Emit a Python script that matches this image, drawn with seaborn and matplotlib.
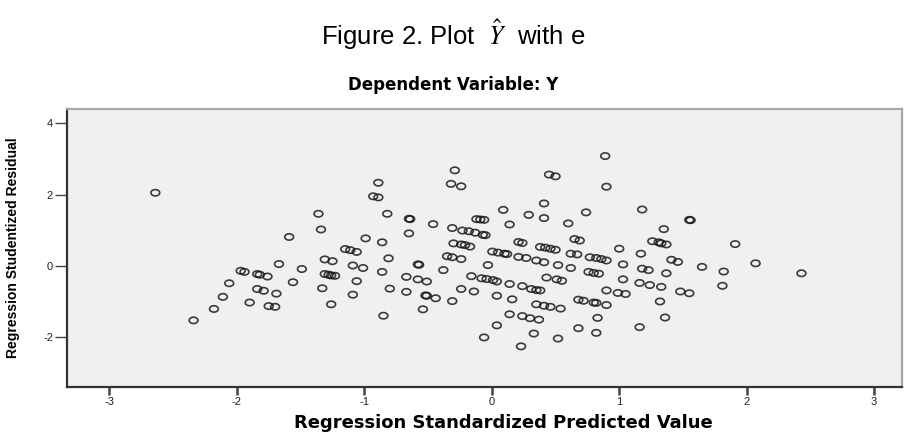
import numpy as np
import pandas as pd
import matplotlib
matplotlib.use("Agg")
import matplotlib.pyplot as plt
from matplotlib.path import Path
import seaborn as sns

# ---- data ----
pred = [-2.64, -2.34, -2.18, -2.11, -2.06, -1.97, -1.94, -1.90, -1.84, -1.82,
        -1.76, -1.84, -1.79, -1.75, -1.70, -1.69, -1.67, -1.59, -1.56, -1.49,
        -1.36, -1.34, -1.33, -1.31, -1.25, -1.31, -1.28, -1.26, -1.23, -1.26,
        -1.15, -1.11, -1.06, -1.09, -1.01, -1.06, -1.09,
        -0.99, -0.89, -0.93, -0.89, -0.86, -0.82, -0.81, -0.86, -0.80, -0.85,
        -0.67, -0.67, -0.65, -0.64, -0.65, -0.58, -0.57, -0.58, -0.51, -0.52,
        -0.51, -0.44, -0.54, -0.46, -0.38, -0.35, -0.31, -0.24, -0.31, -0.31,
        -0.30, -0.24, -0.21, -0.17, -0.29, -0.32, -0.24, -0.24, -0.23, -0.18,
        -0.13, -0.07, -0.05, -0.16, -0.14, -0.12, -0.09, -0.06, -0.08, -0.04,
        0.01, 0.04, -0.03, 0.005, 0.05, 0.10, 0.12, 0.04, 0.04, -0.06,
        0.09, 0.14, 0.14, 0.24, 0.31, 0.35, 0.38, 0.16, 0.14, 0.24,
        0.30, 0.37, 0.33, 0.23, 0.21, 0.24, 0.21, 0.27, 0.29, 0.41,
        0.41, 0.45, 0.50, 0.38, 0.42, 0.46, 0.50, 0.35, 0.41, 0.43,
        0.51, 0.55, 0.35, 0.41, 0.46, 0.54, 0.52, 0.52, 0.60, 0.62,
        0.67, 0.65, 0.69, 0.62, 0.74, 0.77, 0.82, 0.86, 0.90, 0.76,
        0.80, 0.84, 0.68, 0.72, 0.80, 0.82, 0.90, 0.68, 0.83, 0.82,
        0.89, 0.90, 0.90, 0.99, 1.05, 1.00, 1.03, 1.03,
        1.18, 1.55, 1.56, 1.35, 1.26, 1.31, 1.33, 1.37, 1.91, 1.17,
        1.41, 1.46, 1.65, 2.07, 1.18, 1.23, 1.37, 1.82, 2.43, 1.16,
        1.24, 1.33, 1.48, 1.55, 1.81, 1.32, 1.36, 1.16]

resid = [2.05, -1.53, -1.21, -0.87, -0.49, -0.14, -0.17, -1.03, -0.23, -0.25,
         -0.30, -0.65, -0.70, -1.13, -1.15, -0.78, 0.05, 0.81, -0.46, -0.09,
         1.46, 1.02, -0.63, 0.18, 0.13, -0.23, -0.25, -0.27, -0.28, -1.08,
         0.47, 0.44, 0.39, 0.01, -0.06, -0.43, -0.81,
         0.77, 2.33, 1.95, 1.92, 0.66, 1.46, 0.21, -0.17, -0.64, -1.40,
         -0.73, -0.31, 1.32, 1.31, 0.91, 0.04, 0.03, -0.38, -0.44, -0.83,
         -0.84, -0.91, -1.22, 1.17, -0.12, 0.27, 0.24, 0.19, 1.06, -0.99,
         0.63, 0.60, 0.58, 0.54, 2.68, 2.30, 2.23, -0.65, 0.99, 0.97,
         0.93, 0.87, 0.86, -0.29, -0.72, 1.31, 1.30, 1.29, -0.35, -0.37,
         -0.40, -0.44, 0.02, 0.40, 0.37, 0.34, 0.33, -0.84, -1.67, -2.01,
         1.57, 1.16, -0.51, -0.57, -0.65, -0.68, -0.69, -0.94, -1.36, -1.41,
         -1.47, -1.51, -1.90, -2.26, 0.67, 0.64, 0.25, 0.22, 1.43, 1.34,
         1.75, 2.56, 2.51, 0.53, 0.51, 0.48, 0.45, 0.15, 0.10, -0.33,
         -0.38, -0.42, -1.08, -1.12, -1.15, -1.20, -2.04, 0.02, 1.19, 0.34,
         0.32, 0.75, 0.71, -0.06, 1.50, 0.24, 0.22, 0.19, 0.15, -0.17,
         -0.20, -0.22, -0.95, -0.98, -1.03, -1.04, -1.10, -1.75, -1.46, -1.88,
         3.08, 2.22, -0.69, -0.76, -0.79, 0.48, 0.04, -0.38,
         1.58, 1.29, 1.28, 1.03, 0.69, 0.66, 0.63, 0.60, 0.61, 0.34,
         0.17, 0.11, -0.03, 0.07, -0.08, -0.12, -0.21, -0.16, -0.21, -0.48,
         -0.54, -0.59, -0.72, -0.77, -0.56, -1.00, -1.45, -1.72]

x_ticks = [-3, -2, -1, 0, 1, 2, 3]
y_ticks = [-2, 0, 2, 4]

df = pd.DataFrame({"pred": pred, "resid": resid})

sns.set_style("white")
plt.rcParams["font.family"] = ["Liberation Sans", "DejaVu Sans"]
plt.rcParams["mathtext.fontset"] = "stix"

W, H = 907, 432
fig = plt.figure(figsize=(W / 100, H / 100), dpi=100)
L, R, T, B = 67, 902, 109, 387
ax = fig.add_axes([L / W, 1 - B / H, (R - L) / W, (B - T) / H])
ax.set_facecolor("#F0F0F0")

# slightly flattened open-circle marker
th = np.linspace(0, 2 * np.pi, 60)
ell = Path(np.column_stack([np.cos(th), 0.72 * np.sin(th)]), closed=True)

sns.scatterplot(data=df, x="pred", y="resid", ax=ax, marker=ell, s=40,
                facecolors="none", edgecolor="#1a1a1a", linewidth=1.2,
                alpha=0.85, legend=False)

ax.set_xlim(-3.333, 3.219)
ax.set_ylim(-3.40, 4.40)
ax.set_xticks(x_ticks)
ax.set_yticks(y_ticks)
ax.set_xticklabels([str(v) for v in x_ticks], fontsize=8, color="#222222")
ax.set_yticklabels([str(v) for v in y_ticks], fontsize=8, color="#222222")
ax.tick_params(axis="x", bottom=True, direction="out", length=6, width=1.8,
               color="#444444", pad=1)
ax.tick_params(axis="y", left=True, direction="out", length=9, width=1.0,
               color="#444444", pad=1)

for side in ["left", "bottom"]:
    ax.spines[side].set_color("#333333")
    ax.spines[side].set_linewidth(1.6)
for side in ["top", "right"]:
    ax.spines[side].set_visible(True)
    ax.spines[side].set_color("#A8A8A8")
    ax.spines[side].set_linewidth(1.6)

ax.set_xlabel("Regression Standardized Predicted Value", fontsize=13,
              fontweight="bold", family=["DejaVu Sans"], color="black")
ax.xaxis.set_label_coords((503 - L) / (R - L), (B - 414) / (B - T))
ax.set_ylabel("Regression Studentized Residual", fontsize=10,
              fontweight="bold", family=["Liberation Sans Narrow", "Liberation Sans"],
              color="black")
ax.yaxis.set_label_coords((20 - L) / (R - L), 0.5)

fig.text(0.5, 1 - 45 / H, r"Figure 2. Plot  $\hat{Y}$  with e", fontsize=18.5,
         ha="center", va="baseline", color="black")
fig.text(0.5, 1 - 90.5 / H, "Dependent Variable: Y", fontsize=12,
         fontweight="bold", ha="center", va="baseline", family=["DejaVu Sans"],
         color="black")

fig.savefig("out.png", dpi=100)
